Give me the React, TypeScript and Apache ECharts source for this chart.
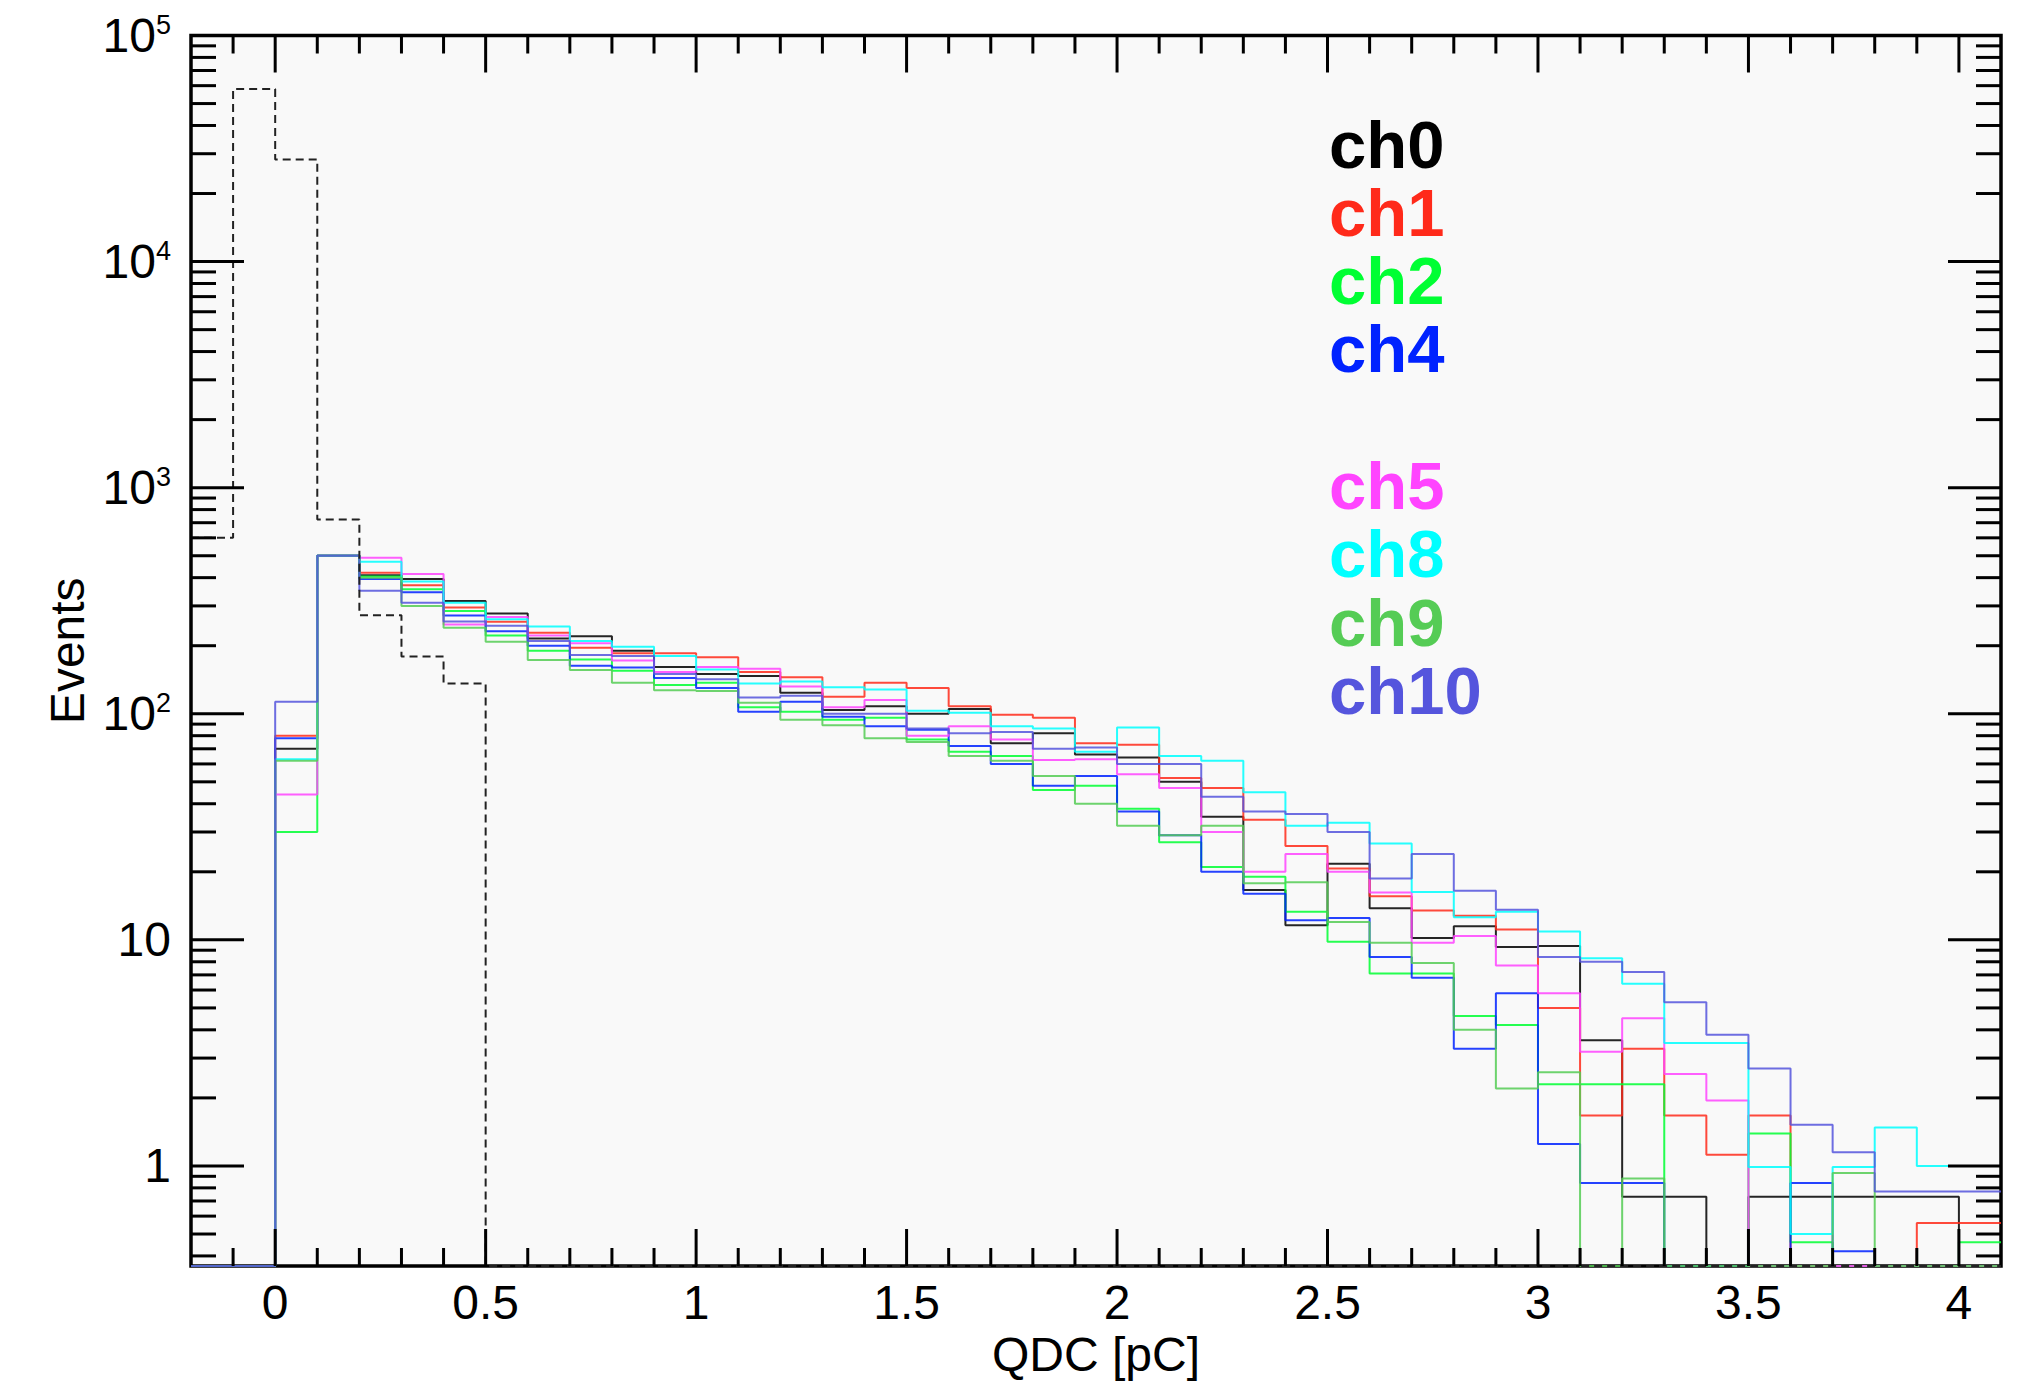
import React, { useEffect, useRef } from 'react';
import * as echarts from 'echarts';

const FONT = '"Liberation Sans", Arial, Helvetica, sans-serif';

// axis ranges
const XMIN = -0.2;
const XMAX = 4.1;
const YMIN = 0.361;
const YMAX = 100000;

// histogram bin lower edges (width 0.1)
const BIN_LO = [
  -0.2, -0.1, 0, 0.1, 0.2, 0.3, 0.4, 0.5, 0.6, 0.7, 0.8, 0.9,
  1, 1.1, 1.2, 1.3, 1.4, 1.5, 1.6, 1.7, 1.8, 1.9,
  2, 2.1, 2.2, 2.3, 2.4, 2.5, 2.6, 2.7, 2.8, 2.9,
  3, 3.1, 3.2, 3.3, 3.4, 3.5, 3.6, 3.7, 3.8, 3.9, 4,
];

// tick labels
const X_MAJOR = [0, 0.5, 1, 1.5, 2, 2.5, 3, 3.5, 4];
const X_LABELS = ['0', '0.5', '1', '1.5', '2', '2.5', '3', '3.5', '4'];
const Y_DECADES = [0.1, 1, 10, 100, 1000, 10000, 100000];
const Y_MINOR_MULT = [2, 3, 4, 5, 6, 7, 8, 9];

// pedestal (dashed)
const PEDESTAL = [
  600, 58000, 28300, 724, 273, 179, 136, 0, 0, 0, 0, 0,
  0, 0, 0, 0, 0, 0, 0, 0, 0, 0,
  0, 0, 0, 0, 0, 0, 0, 0, 0, 0,
  0, 0, 0, 0, 0, 0, 0, 0, 0, 0, 0,
];

const CH0 = [
  0, 0, 70, 500, 410, 395, 315, 278, 215, 220, 190, 161,
  150, 147, 124, 104, 108, 100, 105, 74, 82, 66,
  64, 50, 35, 16.6, 11.6, 21.7, 13.8, 10.2, 11.5, 9.3,
  9.4, 3.6, 0.73, 0.73, 0, 0.73, 0.73, 0.73, 0.73, 0.73, 0,
];
const CH1 = [
  0, 0, 80, 500, 420, 370, 295, 255, 228, 196, 185, 185,
  178, 153, 145, 119, 137, 130, 108, 99, 96, 74,
  73, 52, 47, 34, 26, 20.7, 15.6, 13.5, 12.8, 11.1,
  5.0, 1.67, 3.3, 1.67, 1.12, 1.67, 0, 0, 0, 0.56, 0.56,
];
const CH2 = [
  0, 0, 30, 500, 405, 355, 285, 222, 190, 174, 155, 134,
  137, 107, 102, 94, 96, 77, 68, 65, 46, 48,
  38, 27, 21, 19, 13.3, 9.8, 7.1, 7.1, 4.6, 4.2,
  2.3, 2.3, 2.3, 0, 0, 1.39, 0.46, 0, 0, 0, 0.46,
];
const CH4 = [
  0, 0, 78, 500, 395, 345, 272, 232, 200, 163, 160, 144,
  130, 102, 113, 97, 88, 85, 72, 60, 48, 53,
  37, 29, 20, 16, 12.2, 12.5, 8.4, 6.8, 3.3, 5.8,
  1.25, 0.84, 0.84, 0, 0, 0, 0.84, 0.42, 0, 0, 0,
];
const CH5 = [
  0, 0, 44, 500, 490, 415, 248, 268, 222, 205, 172, 153,
  161, 158, 132, 107, 115, 80, 88, 77, 62.5, 63,
  54, 47, 30, 20, 24, 20, 16.2, 9.7, 10.4, 7.7,
  5.8, 3.2, 4.5, 2.55, 1.95, 0, 0, 0, 0, 0, 0,
];
const CH8 = [
  0, 0, 63, 500, 470, 385, 310, 262, 243, 210, 198, 180,
  157, 136, 139, 131, 128, 103, 101, 88, 86, 68,
  87, 65, 62, 45, 32, 33, 26.7, 16.3, 12.6, 13.3,
  10.9, 8.3, 6.4, 3.5, 3.5, 0.99, 0.5, 0.99, 1.48, 1.0, 1.0,
];
const CH9 = [
  0, 0, 62, 500, 400, 300, 240, 208, 173, 156, 137, 127,
  126, 112, 94, 89, 78, 75, 65, 62, 53, 40,
  32, 29, 32, 17.8, 18, 12, 9.7, 7.9, 4.0, 2.2,
  2.6, 0, 0.88, 0, 0, 0, 0, 0.93, 0, 0, 0,
];
const CH10 = [
  0, 0, 113, 500, 350, 310, 256, 245, 210, 182, 180, 150,
  142, 118, 120, 100, 100, 86, 82, 83, 70, 71,
  60, 60, 43, 37, 36, 30, 18.7, 24, 16.5, 13.6,
  8.4, 8.0, 7.2, 5.3, 3.8, 2.7, 1.52, 1.15, 0.77, 0.77, 0.77,
];

const CHANNEL_NAMES = ['ch0', 'ch1', 'ch2', 'ch4', 'ch5', 'ch8', 'ch9', 'ch10'];
const CHANNEL_DATA = [CH0, CH1, CH2, CH4, CH5, CH8, CH9, CH10];
const CHANNEL_COLORS = ['#000000', '#ff2a1a', '#00ff33', '#0022ff', '#ff44ff', '#00ffff', '#55cc55', '#5555dd'];
// legend rows (index into channels, null = blank line)
const LEGEND_ROWS = [0, 1, 2, 3, null, 4, 5, 6, 7];

function histPoints(vals: number[]) {
  const pts: number[][] = vals.map((v, i) => [BIN_LO[i], v > 0 ? v : YMIN]);
  const last = vals[vals.length - 1];
  pts.push([XMAX, last > 0 ? last : YMIN]);
  return pts;
}

function isMajorX(x: number) {
  return X_MAJOR.some((m) => Math.abs(m - x) < 1e-6);
}

export default function App() {
  const ref = useRef<HTMLDivElement>(null);

  useEffect(() => {
    if (!ref.current) return;
    const chart = echarts.init(ref.current, null, { renderer: 'svg' });

    const xTickData: number[][] = [];
    X_MAJOR.forEach((x) => xTickData.push([x, 1, 37]));
    BIN_LO.filter((x) => x > XMIN + 0.05 && !isMajorX(x)).forEach((x) => xTickData.push([x, 1, 18]));

    const yTickData: number[][] = [];
    Y_DECADES.forEach((d) => {
      if (d >= YMIN && d <= YMAX) yTickData.push([0, d, 53]);
      Y_MINOR_MULT.forEach((k) => {
        const v = d * k;
        if (v >= YMIN && v < YMAX) yTickData.push([0, v, 25]);
      });
    });

    const histSeries: any[] = CHANNEL_DATA.map((vals, i) => ({
      type: 'line',
      name: CHANNEL_NAMES[i],
      data: histPoints(vals),
      step: 'end',
      symbol: 'none',
      silent: true,
      clip: true,
      z: 2,
      lineStyle: { color: CHANNEL_COLORS[i], width: 2, opacity: 0.85 },
      itemStyle: { color: CHANNEL_COLORS[i] },
    }));

    histSeries.push({
      type: 'line',
      name: 'pedestal',
      data: histPoints(PEDESTAL),
      step: 'end',
      symbol: 'none',
      silent: true,
      clip: true,
      z: 3,
      lineStyle: { color: '#222', width: 2, type: [8, 5] },
    });

    const tickStyle = { stroke: '#000', lineWidth: 3 };

    const option: any = {
      animation: false,
      backgroundColor: '#ffffff',
      grid: {
        left: 191,
        right: 22,
        top: 35.5,
        bottom: 118,
        show: true,
        backgroundColor: '#f9f9f9',
        borderColor: '#000',
        borderWidth: 3.5,
        containLabel: false,
        outerBoundsMode: 'none',
      },
      xAxis: {
        type: 'value',
        min: XMIN,
        max: XMAX,
        interval: 0.1,
        axisLine: { show: false },
        axisTick: { show: false },
        splitLine: { show: false },
        axisLabel: {
          margin: 12,
          fontSize: 48,
          fontFamily: FONT,
          color: '#000',
          hideOverlap: false,
          formatter: (v: number) => {
            const idx = X_MAJOR.findIndex((m) => Math.abs(m - v) < 1e-6);
            return idx >= 0 ? X_LABELS[idx] : '';
          },
        },
        name: 'QDC [pC]',
        nameLocation: 'middle',
        nameGap: 58,
        nameTextStyle: { fontSize: 48, fontFamily: FONT, color: '#000' },
      },
      yAxis: {
        type: 'log',
        logBase: 10,
        min: YMIN,
        max: YMAX,
        axisLine: { show: false },
        axisTick: { show: false },
        splitLine: { show: false },
        axisLabel: {
          margin: 20,
          fontSize: 48,
          fontFamily: FONT,
          color: '#000',
          formatter: (v: number) => {
            const l = Math.log10(v);
            const e = Math.round(l);
            if (Math.abs(l - e) > 1e-6) return '';
            if (e === 0) return '1';
            if (e === 1) return '10';
            return '{b|10}{s|' + e + '}';
          },
          rich: {
            b: { fontSize: 48, fontFamily: FONT, color: '#000', lineHeight: 48 },
            s: { fontSize: 27, fontFamily: FONT, color: '#000', lineHeight: 12, verticalAlign: 'top' },
          },
        },
        name: 'Events',
        nameLocation: 'middle',
        nameGap: 100,
        nameTextStyle: { fontSize: 48, fontFamily: FONT, color: '#000' },
      },
      graphic: LEGEND_ROWS.map((ci, row) =>
        ci === null
          ? null
          : {
              type: 'text',
              x: 1329,
              y: 144 + row * 68.3,
              silent: true,
              style: {
                text: CHANNEL_NAMES[ci],
                fill: CHANNEL_COLORS[ci],
                font: 'bold 67px ' + FONT,
                lineHeight: 56,
                verticalAlign: 'middle',
                align: 'left',
              },
            }
      ).filter((g) => g !== null),
      series: [
        ...histSeries,
        {
          type: 'custom',
          name: 'xticks',
          coordinateSystem: 'cartesian2d',
          silent: true,
          z: 10,
          encode: { x: 0, y: 1 },
          data: xTickData,
          renderItem: (params: any, api: any) => {
            const cs = params.coordSys;
            const len = api.value(2);
            const px = api.coord([api.value(0), 1])[0];
            const yb = cs.y + cs.height;
            return {
              type: 'group',
              children: [
                { type: 'line', shape: { x1: px, y1: yb, x2: px, y2: yb - len }, style: tickStyle },
                { type: 'line', shape: { x1: px, y1: cs.y, x2: px, y2: cs.y + len }, style: tickStyle },
              ],
            };
          },
        },
        {
          type: 'custom',
          name: 'yticks',
          coordinateSystem: 'cartesian2d',
          silent: true,
          z: 10,
          encode: { x: 0, y: 1 },
          data: yTickData,
          renderItem: (params: any, api: any) => {
            const cs = params.coordSys;
            const len = api.value(2);
            const py = api.coord([0, api.value(1)])[1];
            const xr = cs.x + cs.width;
            return {
              type: 'group',
              children: [
                { type: 'line', shape: { x1: cs.x, y1: py, x2: cs.x + len, y2: py }, style: tickStyle },
                { type: 'line', shape: { x1: xr, y1: py, x2: xr - len, y2: py }, style: tickStyle },
              ],
            };
          },
        },
      ],
    };

    chart.setOption(option);
    return () => chart.dispose();
  }, []);

  return (
    <div style={{ position: 'fixed', left: 0, top: 0, width: 2023, height: 1384, background: '#fff' }}>
      <div ref={ref} style={{ width: 2023, height: 1384 }} />
    </div>
  );
}
